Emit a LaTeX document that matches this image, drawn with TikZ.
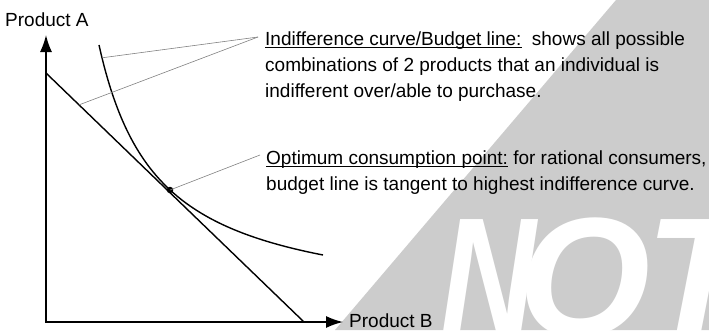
\documentclass[tikz,border=0pt]{standalone}
\usepackage{fontspec}
\usepackage{graphicx}
\setmainfont{Liberation Sans}
\usetikzlibrary{arrows.meta}
\definecolor{wmgray}{gray}{0.8}
\definecolor{leadgray}{gray}{0.5}
\newcommand\myul[1]{\setbox0\hbox{#1}\rlap{\rule[-2.4pt]{\wd0}{0.9pt}}\box0\relax}
\begin{document}
\begin{tikzpicture}[x=1pt,y=-1pt,
  axis/.style={line width=1.5pt},
  curveline/.style={line width=1.4pt},
  leader/.style={leadgray, line width=0.6pt},
  lbl/.style={inner sep=0pt, font=\fontsize{19}{26}\selectfont},
  para/.style={inner sep=0pt, align=left, font=\fontsize{19}{26}\selectfont},
  wmtext/.style={inner sep=0pt, white, font=\fontsize{170}{170}\selectfont\bfseries\itshape},
  dotmark/.style={circle, fill=black, inner sep=0pt, minimum size=6.5pt}]
\useasboundingbox (0,0) rectangle (709,330);
% watermark
\fill[wmgray] (616,0) -- (709,0) -- (709,330) -- (335,330) -- cycle;
\begin{scope}
  \clip (616,0) -- (709,0) -- (709,330) -- (335,330) -- cycle;
  \node[wmtext, anchor=base west] (wm) at (440,336) {\scalebox{0.78}[1]{N}\kern-17pt O\kern-6pt T};
\end{scope}
% axes
\coordinate (O) at (46,322);
\coordinate (ytip) at (46,35);
\coordinate (xtip) at (343,322);
\draw[axis, {Latex[length=17pt,width=12pt]}-{Latex[length=17pt,width=12pt]}] (ytip) -- (O) -- (xtip);
% budget line
\coordinate (b0) at (46,73);
\coordinate (b1) at (304,322);
\draw[curveline] (b0) -- (b1);
% indifference curve
\draw[curveline] plot[domain=99:323, samples=80, smooth] (\x, {310.3-15653/(\x-40)});
% optimum point
\node[dotmark] (opt) at (170,190) {};
% labels
\node[lbl, anchor=base west] (pa) at (5,26) {Product A};
\node[lbl, anchor=base west] (pb) at (349,327) {Product B};
\node[para, anchor=base west] (t1) at (265,97) {\myul{Indifference curve/Budget line:}\hspace{0.55em}shows all possible\\combinations of 2 products that an individual is\\indifferent over/able to purchase.};
\node[para, anchor=base west] (t2) at (266,190) {\myul{Optimum consumption point:} for rational consumers,\\budget line is tangent to highest indifference curve.};
% leaders
\coordinate (L1) at (258,37);
\coordinate (ic1) at (102,57.8);
\path (b0) -- (b1) coordinate[pos=0.128] (bl1);
\draw[leader] (L1) -- (ic1);
\draw[leader] (L1) -- (bl1);
\coordinate (L2) at (260,155);
\draw[leader] (L2) -- (opt.center);
\end{tikzpicture}
\end{document}
